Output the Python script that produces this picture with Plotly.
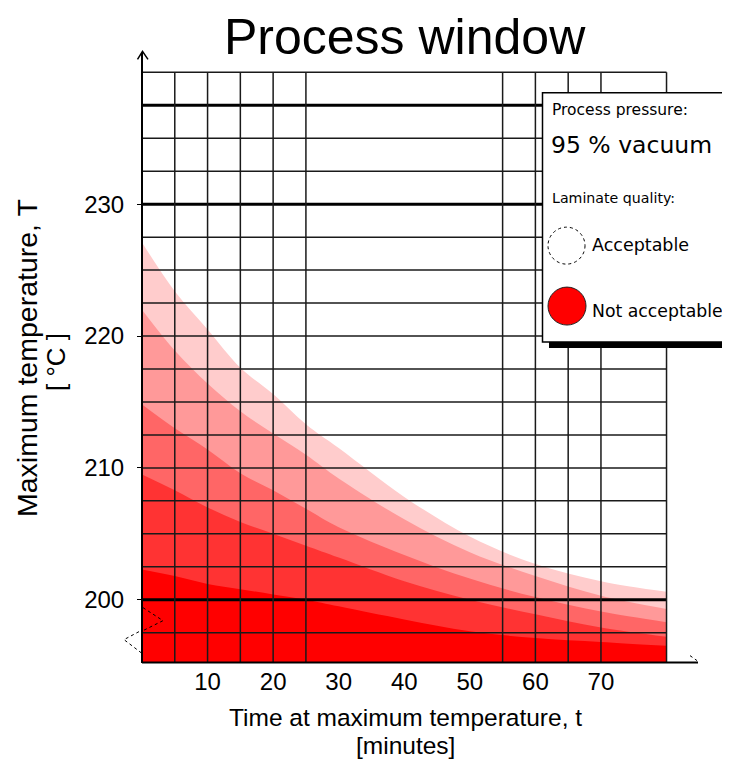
import plotly.graph_objects as go

# ---------------- data ----------------
time_min = [0, 5, 10, 15, 20, 25, 30, 40, 50, 60, 70, 80]

band_lightest = [227.1, 223.4, 220.5, 217.6, 215.6, 213.3, 211.5, 207.8, 204.8, 202.7, 201.4, 200.6]
band_light    = [222.0, 218.9, 216.4, 214.3, 212.6, 211.0, 209.2, 206.1, 203.6, 201.8, 200.3, 199.3]
band_mid      = [214.8, 213.0, 211.4, 209.6, 208.3, 206.9, 205.5, 203.4, 201.6, 200.2, 199.1, 198.3]
band_dark     = [209.5, 208.3, 207.0, 205.9, 205.0, 204.1, 203.2, 201.4, 200.0, 198.9, 197.9, 197.2]
band_darkest  = [202.3, 201.8, 201.2, 200.8, 200.4, 200.0, 199.5, 198.5, 197.6, 197.1, 196.8, 196.5]

band_colors = ["#FFCCCC", "#FF9999", "#FF6666", "#FF3333", "#FF0000"]

x_tick_vals = [10, 20, 30, 40, 50, 60, 70]
y_tick_vals = [200, 210, 220, 230]

h_grid = [197.5, 202.5, 205, 207.5, 210, 212.5, 215, 217.5, 220, 222.5, 225, 227.5, 232.5, 235]
h_grid_bold = [200, 230, 237.5]
v_grid = [5, 10, 15, 20, 25, 55, 60, 65, 70]

X_MIN, X_MAX, X_FRAME = 0, 84.8, 80
Y_MIN, Y_MAX, Y_FRAME = 195.2, 242, 240

# ---------------- figure ----------------
# the page body adds an 8px margin; positions below are given in window pixels
OFF = 8
W, H = 730 - OFF, 765 - OFF
ML = 142 - OFF
MT = 45.6 - OFF
MB = H - (663.4 - OFF)
MR = W - (698 - OFF)
PW, PH = W - ML - MR, H - MT - MB

def px(xp):
    return (xp - OFF - ML) / PW

def py(yp):
    return (H - MB - (yp - OFF)) / PH

fig = go.Figure()
for vals, col in zip([band_lightest, band_light, band_mid, band_dark, band_darkest], band_colors):
    fig.add_trace(go.Scatter(x=time_min, y=vals, mode="lines", line=dict(width=0, shape="spline", color=col),
                             fill="tozeroy", fillcolor=col, hoverinfo="skip", showlegend=False))

shapes = []
GRID = "#1a1a1a"
for yv in h_grid:
    shapes.append(dict(type="line", xref="x", yref="y", x0=0, x1=X_FRAME, y0=yv, y1=yv,
                       line=dict(color=GRID, width=1.5), layer="above"))
for yv in h_grid_bold:
    shapes.append(dict(type="line", xref="x", yref="y", x0=0, x1=X_FRAME, y0=yv, y1=yv,
                       line=dict(color="#000000", width=3), layer="above"))
for xv in v_grid:
    shapes.append(dict(type="line", xref="x", yref="y", x0=xv, x1=xv, y0=Y_MIN, y1=Y_FRAME,
                       line=dict(color=GRID, width=1.5), layer="above"))
# frame top & right
shapes.append(dict(type="line", xref="x", yref="y", x0=0, x1=X_FRAME, y0=Y_FRAME, y1=Y_FRAME,
                   line=dict(color=GRID, width=1.5), layer="above"))
shapes.append(dict(type="line", xref="x", yref="y", x0=X_FRAME, x1=X_FRAME, y0=Y_MIN, y1=Y_FRAME,
                   line=dict(color=GRID, width=1.5), layer="above"))
# axes
shapes.append(dict(type="line", xref="paper", yref="paper", x0=px(142), x1=px(142), y0=py(663.4), y1=py(52),
                   line=dict(color="#000", width=2), layer="above"))
shapes.append(dict(type="line", xref="paper", yref="paper", x0=px(142), x1=px(698), y0=py(663), y1=py(663),
                   line=dict(color="#000", width=2), layer="above"))
# arrow at top of y axis
shapes.append(dict(type="path", xref="paper", yref="paper",
                   path=f"M {px(137.5)} {py(59)} L {px(142.5)} {py(51)} L {px(148)} {py(59)}",
                   line=dict(color="#000", width=1.5), layer="above"))
# axis break zigzag (dotted)
shapes.append(dict(type="path", xref="paper", yref="paper",
                   path=f"M {px(143)} {py(608)} L {px(163)} {py(621)} L {px(143)} {py(631)}",
                   line=dict(color="#000", width=1, dash="dot"), layer="above"))
shapes.append(dict(type="path", xref="paper", yref="paper",
                   path=f"M {px(139)} {py(632)} L {px(124)} {py(640)} L {px(141)} {py(653)}",
                   line=dict(color="#000", width=1, dash="dot"), layer="above"))
shapes.append(dict(type="line", xref="paper", yref="paper", x0=px(690), x1=px(697), y0=py(656), y1=py(661),
                   line=dict(color="#000", width=1, dash="dot"), layer="above"))

# legend box with shadow
shapes.append(dict(type="rect", xref="paper", yref="paper", x0=px(549), x1=px(740), y0=py(348), y1=py(98),
                   fillcolor="#000", line=dict(width=0), layer="above"))
shapes.append(dict(type="rect", xref="paper", yref="paper", x0=px(542.5), x1=px(727), y0=py(342), y1=py(92.5),
                   fillcolor="#fff", line=dict(color="#000", width=1.5), layer="above"))
shapes.append(dict(type="circle", xref="paper", yref="paper", x0=px(548), x1=px(585), y0=py(264), y1=py(227),
                   fillcolor="#fff", line=dict(color="#000", width=1, dash="dot"), layer="above"))
shapes.append(dict(type="circle", xref="paper", yref="paper", x0=px(548), x1=px(586), y0=py(325), y1=py(287),
                   fillcolor="#FF0000", line=dict(color="#222", width=1), layer="above"))

FONT = "Liberation Sans, Arial, sans-serif"
LFONT = "DejaVu Sans, sans-serif"
ann = []
def txt(s, xp, yp, size, xanchor="left", angle=0, family=FONT):
    ann.append(dict(text=s, xref="paper", yref="paper", x=px(xp), y=py(yp), xanchor=xanchor, yanchor="middle",
                    showarrow=False, textangle=angle, font=dict(family=family, size=size, color="#000")))

txt("Process pressure:", 550, 110, 15.5, family=LFONT)
txt("95 % vacuum", 549, 145, 23.5, family=LFONT)
txt("Laminate quality:", 550, 198, 14.2, family=LFONT)
txt("Acceptable", 590, 245, 17.5, family=LFONT)
txt("Not acceptable", 590, 311, 17.3, family=LFONT)
txt("Time at maximum temperature, t", 405, 718, 24.5, xanchor="center")
txt("[minutes]", 405, 746, 24.5, xanchor="center")
txt("Maximum temperature, T", 27, 358, 28.5, xanchor="center", angle=-90)
txt("[ °C ]", 56, 362, 26, xanchor="center", angle=-90)
# title as an annotation placed just below the top edge
txt("Process window", 405, 37, 50, xanchor="center")

fig.update_layout(
    width=W, height=H, margin=dict(l=ML, r=MR, t=MT, b=MB),
    paper_bgcolor="#fff", plot_bgcolor="#fff",
    xaxis=dict(range=[X_MIN, X_MAX], tickvals=x_tick_vals, showgrid=False, zeroline=False, showline=False,
               ticks="", ticklabelstandoff=2, tickfont=dict(family=FONT, size=24, color="#000")),
    yaxis=dict(range=[Y_MIN, Y_MAX], tickvals=y_tick_vals, showgrid=False, zeroline=False, showline=False,
               ticks="outside", ticklen=4, tickcolor="#000", ticklabelstandoff=8,
               tickfont=dict(family=FONT, size=24, color="#000")),
    shapes=shapes, annotations=ann, showlegend=False,
)

fig.write_html("out.html")
